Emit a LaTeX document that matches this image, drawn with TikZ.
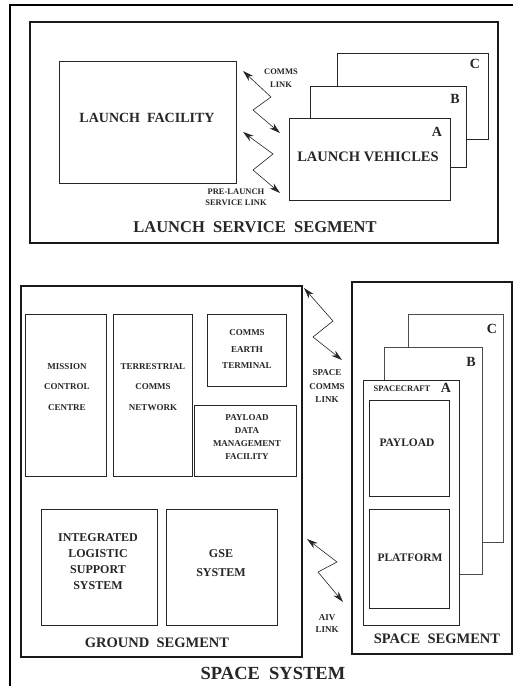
\documentclass[tikz,border=0pt]{standalone}
\usepackage{fontspec}
\setmainfont{Liberation Serif}
\usetikzlibrary{arrows.meta}
\newcommand{\fs}[2]{\fontsize{#1}{#2}\selectfont\bfseries}
\begin{document}
\begin{tikzpicture}[x=1pt,y=-1pt,
  box/.style={draw=black!85, line width=0.9pt, fill=white},
  thinbox/.style={draw=black!70, line width=0.8pt, fill=white},
  seg/.style={draw=black!90, line width=1.5pt},
  lbl/.style={align=center, inner sep=0pt, text=black!85},
  link/.style={line width=0.6pt, black!85,
     {Stealth[length=11pt,width=6.5pt]}-{Stealth[length=11pt,width=6.5pt]}},
]
\useasboundingbox (0,0) rectangle (513,686);
% outer frame (cropped)
\draw[line width=2pt] (10,690) -- (10,5) -- (520,5);

% ---------- Launch service segment ----------
\draw[seg, line width=1.8pt] (30,22) rectangle (498,243);
\node[box, anchor=north west, minimum width=177pt, minimum height=122pt] (lf) at (59,61) {};
\node[lbl, font=\fs{14}{16}] (lft) at (147,118) {LAUNCH\ \ FACILITY};
\node[box, anchor=north west, minimum width=151pt, minimum height=86pt] (lvC) at (337,53) {};
\node[box, anchor=north west, minimum width=156pt, minimum height=81pt] (lvB) at (310,86) {};
\node[box, anchor=north west, minimum width=161pt, minimum height=82pt] (lvA) at (289,118) {};
\node[lbl, font=\fs{14}{16}] (lvCt) at (475,64) {C};
\node[lbl, font=\fs{14}{16}] (lvBt) at (455,99) {B};
\node[lbl, font=\fs{14}{16}] (lvAt) at (437,132) {A};
\node[lbl, font=\fs{14.5}{16}] (lvt) at (368,157) {LAUNCH VEHICLES};
\node[lbl, font=\fs{16.5}{18}] (lsst) at (255,227) {LAUNCH\ \ SERVICE\ \ SEGMENT};

\coordinate (cl1) at (243,71); \coordinate (cl2) at (271,97);
\coordinate (cl3) at (253,110); \coordinate (cl4) at (280,133);
\draw[link] (cl1) -- (cl2) -- (cl3) -- (cl4);
\node[lbl, font=\fs{8.5}{13}] (clt) at (281,78.5) {COMMS\\LINK};
\coordinate (pl1) at (243,132); \coordinate (pl2) at (273,154);
\coordinate (pl3) at (253,170); \coordinate (pl4) at (280,193);
\draw[link] (pl1) -- (pl2) -- (pl3) -- (pl4);
\node[lbl, font=\fs{8.5}{11}] (plt) at (236,197.5) {PRE-LAUNCH\\SERVICE LINK};

% ---------- Ground segment ----------
\draw[seg] (21,286) rectangle (302,657);
\node[box, anchor=north west, minimum width=81pt, minimum height=162pt] (mcc) at (25,314) {};
\node[lbl, font=\fs{9}{20.5}] (mcct) at (67,387) {MISSION\\CONTROL\\CENTRE};
\node[box, anchor=north west, minimum width=79pt, minimum height=162pt] (tcn) at (113,314) {};
\node[lbl, font=\fs{9}{20.5}] (tcnt) at (153,387) {TERRESTRIAL\\COMMS\\NETWORK};
\node[box, anchor=north west, minimum width=79pt, minimum height=72pt] (cet) at (207,314) {};
\node[lbl, font=\fs{9}{16.5}] (cett) at (247,349.5) {COMMS\\EARTH\\TERMINAL};
\node[box, anchor=north west, minimum width=102pt, minimum height=71pt] (pdm) at (194,405) {};
\node[lbl, font=\fs{9}{13}] (pdmt) at (247,437.5) {PAYLOAD\\DATA\\MANAGEMENT\\FACILITY};
\node[box, anchor=north west, minimum width=116pt, minimum height=116pt] (ils) at (41,509) {};
\node[lbl, font=\fs{12}{16}] (ilst) at (98,562) {INTEGRATED\\LOGISTIC\\SUPPORT\\SYSTEM};
\node[box, anchor=north west, minimum width=111pt, minimum height=116pt] (gse) at (166,509) {};
\node[lbl, font=\fs{12}{19}] (gset) at (221,563.5) {GSE\\SYSTEM};
\node[lbl, font=\fs{14.5}{16}] (gst) at (157,643) {GROUND\ \ SEGMENT};

% ---------- Links between ground and space ----------
\coordinate (sc1) at (304,288); \coordinate (sc2) at (333,321);
\coordinate (sc3) at (313,337); \coordinate (sc4) at (342,360);
\draw[link] (sc1) -- (sc2) -- (sc3) -- (sc4);
\node[lbl, font=\fs{9}{13.5}] (sct) at (327,386.5) {SPACE\\COMMS\\LINK};
\coordinate (av1) at (307,539); \coordinate (av2) at (337,562);
\coordinate (av3) at (318,572); \coordinate (av4) at (343,602);
\draw[link] (av1) -- (av2) -- (av3) -- (av4);
\node[lbl, font=\fs{9}{12}] (avt) at (327,624) {AIV\\LINK};

% ---------- Space segment ----------
\draw[seg] (352,282) rectangle (512,654);
\node[thinbox, anchor=north west, minimum width=95pt, minimum height=228pt] (scC) at (408,314) {};
\node[thinbox, anchor=north west, minimum width=98pt, minimum height=227pt] (scB) at (384,347) {};
\node[box, anchor=north west, minimum width=96pt, minimum height=245pt] (scA) at (363,380) {};
\node[lbl, font=\fs{14}{16}] (scCt) at (492,329) {C};
\node[lbl, font=\fs{14}{16}] (scBt) at (471,362) {B};
\node[lbl, font=\fs{14}{16}] (scAt) at (446,388) {A};
\node[lbl, font=\fs{8.5}{10}] (scft) at (402,388.5) {SPACECRAFT};
\node[box, line width=1.1pt, anchor=north west, minimum width=80pt, minimum height=96pt] (pay) at (369,400) {};
\node[lbl, font=\fs{11.5}{13}] (payt) at (407,443) {PAYLOAD};
\node[box, line width=1.1pt, anchor=north west, minimum width=80pt, minimum height=99pt] (plf) at (369,509) {};
\node[lbl, font=\fs{11.5}{13}] (plft) at (410,558) {PLATFORM};
\node[lbl, font=\fs{14.5}{16}] (sst) at (437,639) {SPACE\ \ SEGMENT};

\node[lbl, font=\fs{18.5}{20}] (syst) at (273,673) {SPACE\ \ SYSTEM};
\end{tikzpicture}
\end{document}
